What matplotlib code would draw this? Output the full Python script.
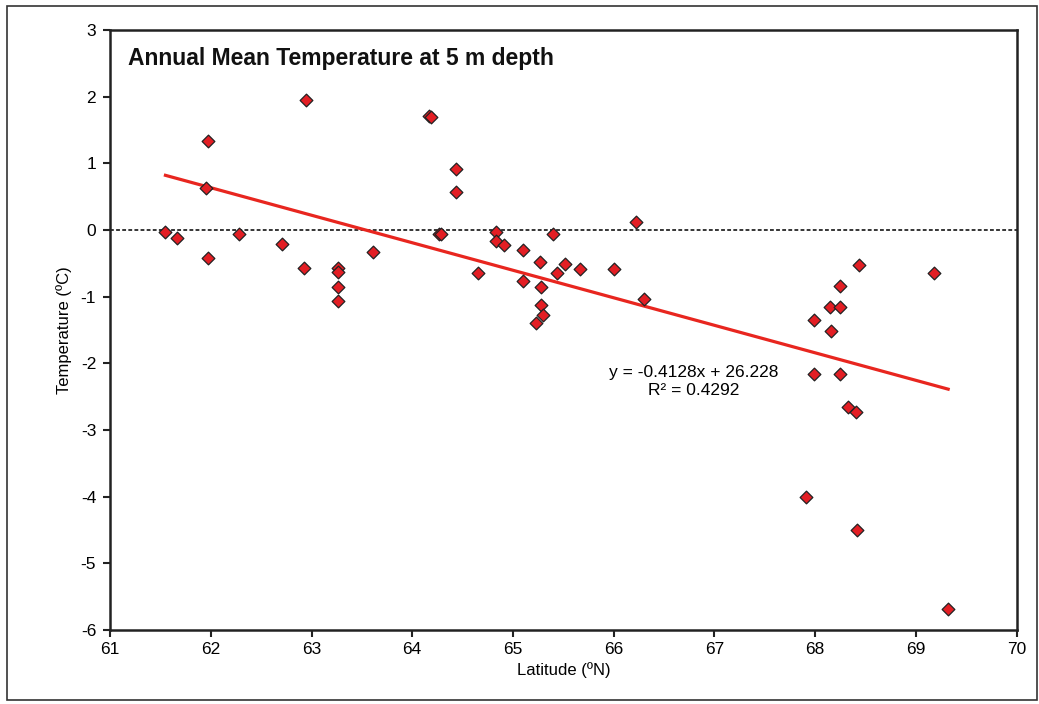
import numpy as np
import matplotlib.pyplot as plt
from matplotlib.patches import Rectangle

# ------------------------------------------------------------
# Annual mean temperature at 5 m depth vs latitude
# ------------------------------------------------------------
plt.rcParams['font.family'] = ['Liberation Sans', 'DejaVu Sans']
plt.rcParams['axes.unicode_minus'] = False

latitude = [61.55, 61.66, 61.97, 61.95, 61.97, 62.28, 62.71, 62.95, 62.93,
            63.26, 63.26, 63.26, 63.26, 63.61, 64.17, 64.19, 64.27, 64.43,
            64.43, 64.29, 64.83, 64.83, 64.91, 64.65, 65.10, 65.10, 65.27,
            65.28, 65.28, 65.30, 65.23, 65.40, 65.44, 65.52, 65.67, 66.00,
            66.22, 66.30, 68.43, 69.18, 68.25, 68.15, 68.25, 67.99, 68.16,
            67.99, 68.25, 68.33, 68.41, 67.91, 68.42, 69.32]
temperature = [-0.03, -0.12, 1.33, 0.63, -0.42, -0.06, -0.21, 1.95, -0.57,
               -0.57, -0.63, -0.85, -1.06, -0.33, 1.71, 1.70, -0.06, 0.91,
               0.57, -0.06, -0.03, -0.16, -0.22, -0.64, -0.30, -0.77, -0.48,
               -0.86, -1.12, -1.27, -1.39, -0.06, -0.64, -0.51, -0.58, -0.59,
               0.12, -1.03, -0.53, -0.65, -0.84, -1.16, -1.16, -1.35, -1.52,
               -2.16, -2.16, -2.65, -2.73, -4.01, -4.50, -5.69]

# linear trend as reported on the chart
slope = -0.4128
intercept = 26.228
r_squared = 0.4292

fig = plt.figure(figsize=(10.39, 7.04), dpi=100)
ax = fig.add_axes([0.1059, 0.1051, 0.8726, 0.8523])

# outer frame around the whole figure
fig.patches.append(Rectangle((0.007, 0.006), 0.991, 0.985, transform=fig.transFigure,
                             fill=False, edgecolor='#333333', linewidth=1.2))

ax.axhline(0, color='black', linestyle=(0, (2.5, 1.5)), linewidth=1.1, zorder=1)

x_fit = np.array([min(latitude), max(latitude)])
ax.plot(x_fit, slope * x_fit + intercept, color='#e8261f', linewidth=2.3, zorder=2)

ax.scatter(latitude, temperature, marker='D', s=42, facecolor='#e31e24',
           edgecolor='#222222', linewidth=0.9, zorder=3)

ax.set_xlim(61, 70)
ax.set_ylim(-6, 3)
ax.set_xticks(range(61, 71))
ax.set_yticks(range(-6, 4))
ax.tick_params(direction='out', length=5, width=1.5, labelsize=12.5, color='#222222')
ax.tick_params(axis='y', pad=5)
for s in ax.spines.values():
    s.set_linewidth(1.8)
    s.set_color('#222222')

ax.set_xlabel('Latitude (ºN)', fontsize=12)
ax.set_ylabel('Temperature (ºC)', fontsize=12, labelpad=6)

ax.text(0.02, 0.972, 'Annual Mean Temperature at 5 m depth', transform=ax.transAxes,
        fontsize=16.5, fontweight='bold', va='top', ha='left', color='#111111')

ax.text(66.79, -2.27, f'y = {slope}x + {intercept}\nR² = {r_squared}',
        fontsize=12.5, ha='center', va='center', linespacing=1.2)

plt.savefig('out.png', dpi=100)
plt.close()
